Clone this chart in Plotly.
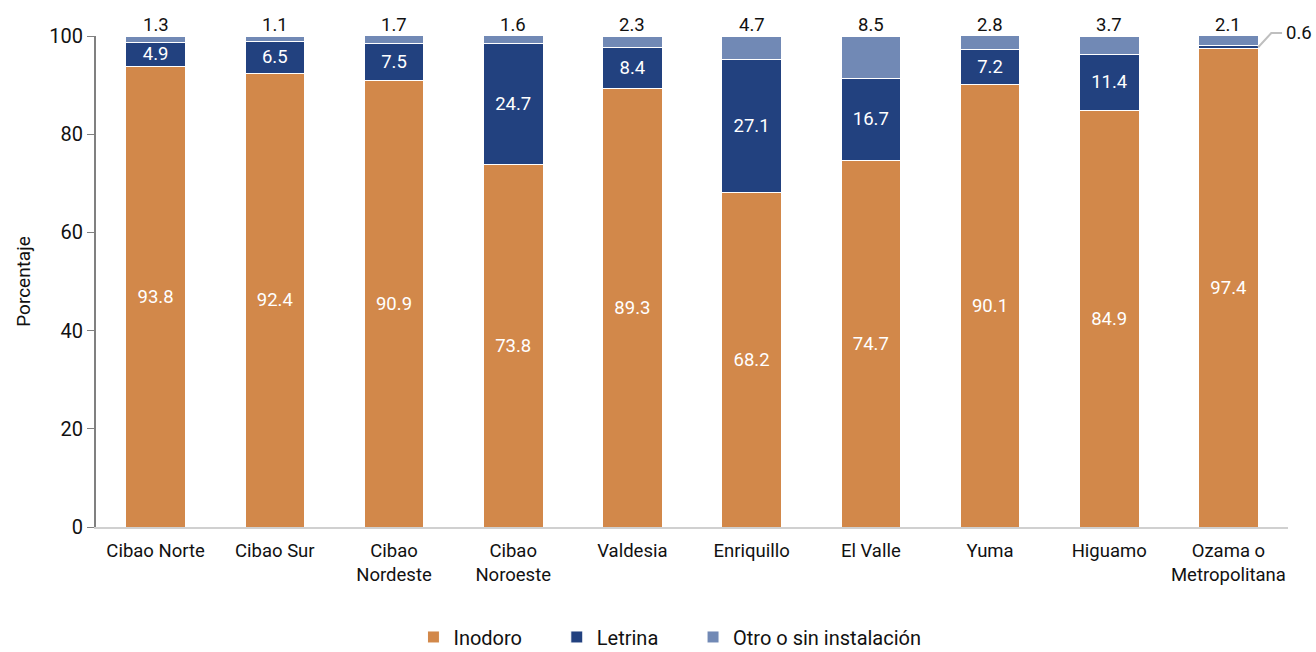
import plotly.graph_objects as go

regiones = ["Cibao Norte", "Cibao Sur", "Cibao<br>Nordeste", "Cibao<br>Noroeste", "Valdesia",
            "Enriquillo", "El Valle", "Yuma", "Higuamo", "Ozama o<br>Metropolitana"]
inodoro = [93.8, 92.4, 90.9, 73.8, 89.3, 68.2, 74.7, 90.1, 84.9, 97.4]
letrina = [4.9, 6.5, 7.5, 24.7, 8.4, 27.1, 16.7, 7.2, 11.4, 0.6]
otro = [1.3, 1.1, 1.7, 1.6, 2.3, 4.7, 8.5, 2.8, 3.7, 2.1]
series_names = ["Inodoro", "Letrina", "Otro o sin instalación"]

c_inodoro = "#D2884A"
c_letrina = "#22417F"
c_otro = "#7189B5"
font = "Roboto, Arial, sans-serif"

x_idx = list(range(len(regiones)))
n = len(regiones)
pad = "\u00a0" * 6  # extra room between legend entries

fig = go.Figure()
fig.add_bar(
    x=x_idx, y=inodoro, name=series_names[0] + pad,
    marker=dict(color=c_inodoro, line=dict(color="white", width=1)),
    text=[f"{v:.1f}" for v in inodoro], textposition="inside", insidetextanchor="middle",
    textfont=dict(color="white", size=18.5, family=font), constraintext="none",
)
fig.add_bar(
    x=x_idx, y=letrina, name=series_names[1] + pad,
    marker=dict(color=c_letrina, line=dict(color="white", width=1)),
    text=[f"{v:.1f}" if v >= 2 else "" for v in letrina], textposition="inside", insidetextanchor="middle",
    textfont=dict(color="white", size=18.5, family=font), constraintext="none",
)
fig.add_bar(
    x=x_idx, y=otro, name=series_names[2],
    marker=dict(color=c_otro, line=dict(color="white", width=1)),
    textposition="none",
)

# Values of the top segment written just above each column
for i, v in enumerate(otro):
    fig.add_annotation(x=i, y=100, text=f"{v:.1f}", showarrow=False, yanchor="bottom", yshift=-2,
                       font=dict(size=18.5, color="#111111", family=font))

# Leader line for the small Letrina value in the last column (paper coordinates so it is not clipped)
last = n - 1
y_small = (inodoro[last] + letrina[last] / 2) / 100
x_edge = (last + 0.75) / n
fig.add_shape(type="path",
              path=f"M {x_edge} {y_small} L {x_edge + 0.011} 1.006 L {x_edge + 0.02} 1.006",
              xref="paper", yref="paper", line=dict(color="#BFBFBF", width=2))
fig.add_annotation(x=x_edge + 0.02, y=1.006, xref="paper", yref="paper", text=f"{letrina[last]:.1f}",
                   showarrow=False, xanchor="left", yanchor="middle", xshift=2,
                   font=dict(size=18.5, color="#111111", family=font))

fig.update_layout(
    barmode="stack", bargap=0.5,
    width=1316, height=652,
    margin=dict(l=96, r=28, t=36, b=125, autoexpand=False),
    plot_bgcolor="white", paper_bgcolor="white",
    font=dict(family=font, size=18, color="#111111"),
    legend=dict(orientation="h", x=0.4815, xanchor="center", y=-0.224, yanchor="middle",
                font=dict(size=20, family=font), traceorder="normal", itemwidth=30),
    showlegend=True,
)
fig.update_xaxes(
    tickmode="array", tickvals=x_idx, ticktext=regiones,
    range=[-0.5, n - 0.5], automargin=False,
    showline=True, linecolor="#D0D0D0", linewidth=2, ticks="", ticklabelstandoff=6,
    tickfont=dict(size=18.5, family=font),
)
fig.update_yaxes(
    range=[0, 100], tickvals=[0, 20, 40, 60, 80, 100], automargin=False,
    showgrid=False, zeroline=False,
    showline=True, linecolor="#808080", linewidth=2, ticks="outside", ticklen=7, tickcolor="#808080",
    tickfont=dict(size=20, family=font),
    title=dict(text="Porcentaje", font=dict(size=19, family=font), standoff=14),
)

fig.write_html("out.html")
